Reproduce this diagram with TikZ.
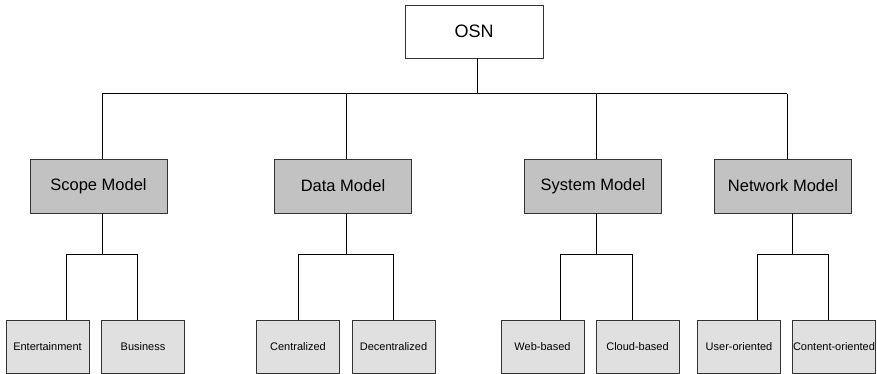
\documentclass[tikz,border=0pt]{standalone}
\usepackage{fontspec}
\setmainfont{Liberation Sans}
\begin{document}
\begin{tikzpicture}[x=1pt,y=-1pt,
  box/.style={draw=black!80, line width=0.9pt, inner sep=0pt, align=center},
  topbox/.style={box, fill=white, minimum width=138pt, minimum height=53pt, font=\fontsize{18}{20}\selectfont},
  midbox/.style={box, fill=black!24, minimum width=137pt, minimum height=54pt, font=\fontsize{16.5}{18}\selectfont},
  leafbox/.style={box, fill=black!12, minimum width=83pt, minimum height=53pt, font=\fontsize{11}{13}\selectfont},
  conn/.style={draw=black, line width=1pt}]
\useasboundingbox (0,0) rectangle (877,374);

\node[topbox] (osn) at (474,31.5) {OSN};

\node[midbox] (scope) at (98.5,186) {Scope Model};
\node[midbox] (data) at (343,186) {Data Model};
\node[midbox] (system) at (593,186) {System Model};
\node[midbox] (network) at (783,186) {Network Model};

\node[leafbox] (ent) at (47.5,346.5) {Entertainment};
\node[leafbox] (bus) at (143,346.5) {Business};
\node[leafbox] (cen) at (298,346.5) {Centralized};
\node[leafbox] (dec) at (393.5,346.5) {Decentralized};
\node[leafbox] (web) at (542.5,346.5) {Web-based};
\node[leafbox] (cloud) at (637.5,346.5) {Cloud-based};
\node[leafbox] (user) at (739,346.5) {User-oriented};
\node[leafbox] (content) at (834,346.5) {Content-oriented};

% top bus
\coordinate (osnb) at (477,94);
\coordinate (busL) at (102,94);
\coordinate (busR) at (787,94);
\coordinate (dataT) at (346,94);
\coordinate (sysT) at (596,94);
\draw[conn] (osn.south -| osnb) -- (osnb);
\draw[conn] (busL) -- (busR);
\draw[conn] (busL) -- (scope.north -| busL);
\draw[conn] (dataT) -- (data.north -| dataT);
\draw[conn] (sysT) -- (system.north -| sysT);
\draw[conn] (busR) -- (network.north -| busR);

% sub-trees
\coordinate (scopeJ) at (102,254);
\coordinate (entT) at (66,254);
\coordinate (busT) at (137,254);
\draw[conn] (scope.south -| scopeJ) -- (scopeJ);
\draw[conn] (ent.north -| entT) -- (entT) -- (busT) -- (bus.north -| busT);

\coordinate (dataJ) at (346,254);
\coordinate (cenT) at (298,254);
\coordinate (decT) at (393,254);
\draw[conn] (data.south -| dataJ) -- (dataJ);
\draw[conn] (cen.north -| cenT) -- (cenT) -- (decT) -- (dec.north -| decT);

\coordinate (sysJ) at (596,254);
\coordinate (webT) at (560,254);
\coordinate (cloudT) at (632,254);
\draw[conn] (system.south -| sysJ) -- (sysJ);
\draw[conn] (web.north -| webT) -- (webT) -- (cloudT) -- (cloud.north -| cloudT);

\coordinate (netJ) at (792,254);
\coordinate (userT) at (757,254);
\coordinate (contT) at (828,254);
\draw[conn] (network.south -| netJ) -- (netJ);
\draw[conn] (user.north -| userT) -- (userT) -- (contT) -- (content.north -| contT);
\end{tikzpicture}
\end{document}
